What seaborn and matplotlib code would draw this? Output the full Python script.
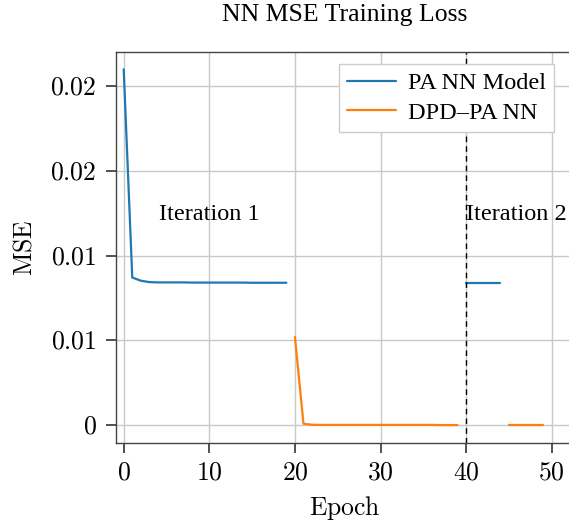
import pandas as pd
import numpy as np
import matplotlib
matplotlib.use("Agg")
import matplotlib.pyplot as plt
import seaborn as sns

# values
pa_epochs_1 = list(range(0, 20))
pa_mse_1 = [0.0210, 0.00871, 0.00852, 0.00844, 0.00842, 0.00842, 0.00842, 0.00842,
            0.00841, 0.00841, 0.00841, 0.00841, 0.00841, 0.00841, 0.00841, 0.00840,
            0.00840, 0.00840, 0.00840, 0.00840]
dpd_epochs_1 = list(range(20, 40))
dpd_mse_1 = [0.0052, 0.00008, 0.00002, 0.00001, 0.00001, 0.00001, 0.00001, 0.00001,
             0.00001, 0.00001, 0.00001, 0.00001, 0.00001, 0.00001, 0.00001, 0.00001,
             0.00001, 0.0, 0.0, 0.0]
pa_epochs_2 = list(range(40, 45))
pa_mse_2 = [0.00840, 0.00840, 0.00840, 0.00840, 0.00840]
dpd_epochs_2 = list(range(45, 50))
dpd_mse_2 = [0.00001, 0.00001, 0.00001, 0.00001, 0.00001]

model_names = ["PA NN Model", "DPD\u2013PA NN"]
y_ticks = [0.0, 0.005, 0.01, 0.015, 0.02]
y_tick_labels = ["0", "0.01", "0.01", "0.02", "0.02"]
x_ticks = [0, 10, 20, 30, 40, 50]
iteration_labels = ["Iteration 1", "Iteration 2"]

parts = [
    (pa_epochs_1, pa_mse_1, model_names[0], 1),
    (dpd_epochs_1, dpd_mse_1, model_names[1], 1),
    (pa_epochs_2, pa_mse_2, model_names[0], 2),
    (dpd_epochs_2, dpd_mse_2, model_names[1], 2),
]
rows = []
for ep, mse, name, it in parts:
    for e, m in zip(ep, mse):
        rows.append({"Epoch": e, "MSE": m, "Model": name, "Segment": f"{name}-{it}"})
df = pd.DataFrame(rows)

colors = ["#1f77b4", "#ff7f0e"]

sns.set_theme(style="whitegrid")
plt.rcParams["mathtext.fontset"] = "cm"
plt.rcParams["font.family"] = ["Liberation Serif", "DejaVu Serif"]
for key in ["text.color", "axes.labelcolor", "xtick.color", "ytick.color"]:
    plt.rcParams[key] = "black"

fig = plt.figure(figsize=(5.69, 5.27), dpi=100)
ax = fig.add_axes([116 / 569, 1 - 442.7 / 527, 458 / 569, (442.7 - 52) / 527])

sns.lineplot(data=df, x="Epoch", y="MSE", hue="Model", units="Segment",
             estimator=None, palette=colors, linewidth=1.6,
             ax=ax, legend=False)

ax.axvline(40, color="black", linestyle=(0, (4, 3)), linewidth=1.0)

ax.set_xlim(-0.9, 52.6)
ax.set_ylim(-0.00104, 0.02202)
ax.set_xticks(x_ticks)
ax.set_xticklabels([f"${t}$" for t in x_ticks])
ax.set_yticks(y_ticks)
ax.set_yticklabels([f"${t}$" for t in y_tick_labels])

ax.grid(True, color="#c8c8c8", linewidth=1.0)
for side in ["left", "bottom", "top", "right"]:
    ax.spines[side].set_color("#444444")
    ax.spines[side].set_linewidth(1.0)
ax.tick_params(axis="both", which="major", direction="out", length=7, width=1.1,
               color="#222222", labelcolor="black", labelsize=18.5, pad=7,
               bottom=True, left=True)

ax.set_xlabel(r"$\mathrm{Epoch}$", fontsize=18.5, labelpad=7, color="black")
ax.set_ylabel(r"$\mathrm{MSE}$", fontsize=18.5, labelpad=10, color="black")
ax.set_title("NN MSE Training Loss", fontsize=18.5, pad=22, color="black")

ax.text(10, 0.01245, iteration_labels[0], fontsize=17.5, ha="center", va="center",
        color="black")
ax.text(40, 0.01245, iteration_labels[1], fontsize=17.5, ha="left", va="center",
        color="black")

handles = [plt.Line2D([], [], color=c, linewidth=1.6) for c in colors]
leg = ax.legend(handles, model_names, loc="upper right", bbox_to_anchor=(0.968, 0.982),
                fontsize=17.5, frameon=True, fancybox=False, framealpha=1,
                edgecolor="#cccccc", handlelength=2.0, borderpad=0.35,
                labelspacing=0.3, handletextpad=0.5, borderaxespad=0.2)
leg.get_frame().set_linewidth(1.0)
for t in leg.get_texts():
    t.set_color("black")

fig.savefig("out.png", dpi=100)
plt.close(fig)
